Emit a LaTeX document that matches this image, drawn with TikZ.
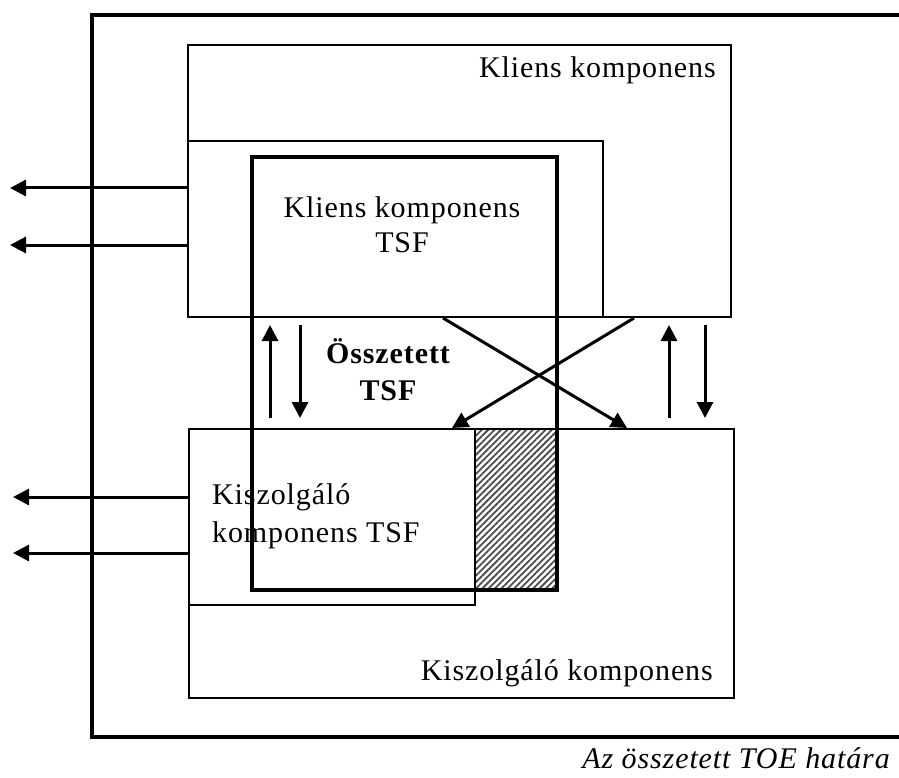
\documentclass[tikz,border=0pt]{standalone}
\usepackage{fontspec}
\setmainfont{Liberation Serif}[LetterSpace=3]
\usetikzlibrary{arrows.meta,patterns.meta}
\begin{document}
\begin{tikzpicture}[x=1pt,y=-1pt,
  thinbox/.style={draw,line width=2pt,inner sep=0pt,anchor=north west},
  thickbox/.style={draw,line width=4pt,inner sep=0pt,anchor=north west},
  arr/.style={line width=3pt,-{Triangle[length=16pt,width=16pt]}},
  lbl/.style={inner sep=0pt,font=\fontsize{30}{36}\selectfont}
]
\useasboundingbox (0,0) rectangle (899,778);
% hatched region
\path[pattern={Lines[angle=45,distance=4.5pt,line width=1.8pt]},pattern color=black!70]
  (474,428) rectangle (555,588);
% outer TOE boundary (right side lies beyond the picture)
\node[thickbox,minimum width=816pt,minimum height=722pt] (toe) at (90,13) {};
% boxes
\node[thinbox,minimum width=543pt,minimum height=272pt] (cc) at (187,44) {};
\node[thinbox,minimum width=415pt,minimum height=176pt] (ctsf) at (187,140) {};
\node[thinbox,minimum width=545pt,minimum height=269pt] (sc) at (188,428) {};
\node[thinbox,minimum width=286pt,minimum height=176pt] (stsf) at (188,428) {};
\node[thickbox,minimum width=305pt,minimum height=433pt] (comp) at (250,155) {};
% left arrows
\coordinate (l1) at (10,188);
\coordinate (l2) at (10,245);
\coordinate (l3) at (13,497);
\coordinate (l4) at (13,553);
\draw[arr] (ctsf.west |- l1) -- (l1);
\draw[arr] (ctsf.west |- l2) -- (l2);
\draw[arr] (stsf.west |- l3) -- (l3);
\draw[arr] (stsf.west |- l4) -- (l4);
% vertical arrows
\coordinate (v1) at (270,0);
\coordinate (v2) at (300,0);
\coordinate (v3) at (669,0);
\coordinate (v4) at (705,0);
\draw[arr,shorten <=10pt,shorten >=7pt] (stsf.north -| v1) -- (ctsf.south -| v1);
\draw[arr,shorten <=7pt,shorten >=10pt] (ctsf.south -| v2) -- (stsf.north -| v2);
\draw[arr,shorten <=10pt,shorten >=7pt] (sc.north -| v3) -- (cc.south -| v3);
\draw[arr,shorten <=7pt,shorten >=10pt] (cc.south -| v4) -- (sc.north -| v4);
% crossing arrows
\coordinate (c1) at (443,0);
\coordinate (c2) at (627,0);
\coordinate (c3) at (634,0);
\coordinate (c4) at (452,0);
\draw[arr] (cc.south -| c1) -- (sc.north -| c2);
\draw[arr] (cc.south -| c3) -- (sc.north -| c4);
% labels
\node[lbl,anchor=base east] (tcc) at (716,78) {Kliens komponens};
\node[lbl,anchor=base,align=center,font=\fontsize{30}{35}\selectfont] (tctsf) at (402,252) {Kliens komponens\\TSF};
\node[lbl,anchor=base,align=center,font=\fontsize{30}{37}\selectfont\bfseries] (tcomp) at (388,400) {Összetett\\TSF};
\node[lbl,anchor=base west,align=left,font=\fontsize{30}{38}\selectfont] (tstsf) at (212,542) {Kiszolgáló\\komponens TSF};
\node[lbl,anchor=base east] (tsc) at (713,680) {Kiszolgáló komponens};
\node[lbl,anchor=base east,font=\fontsize{30}{36}\selectfont\itshape] (ttoe) at (890,768) {Az összetett TOE határa};
\end{tikzpicture}
\end{document}
